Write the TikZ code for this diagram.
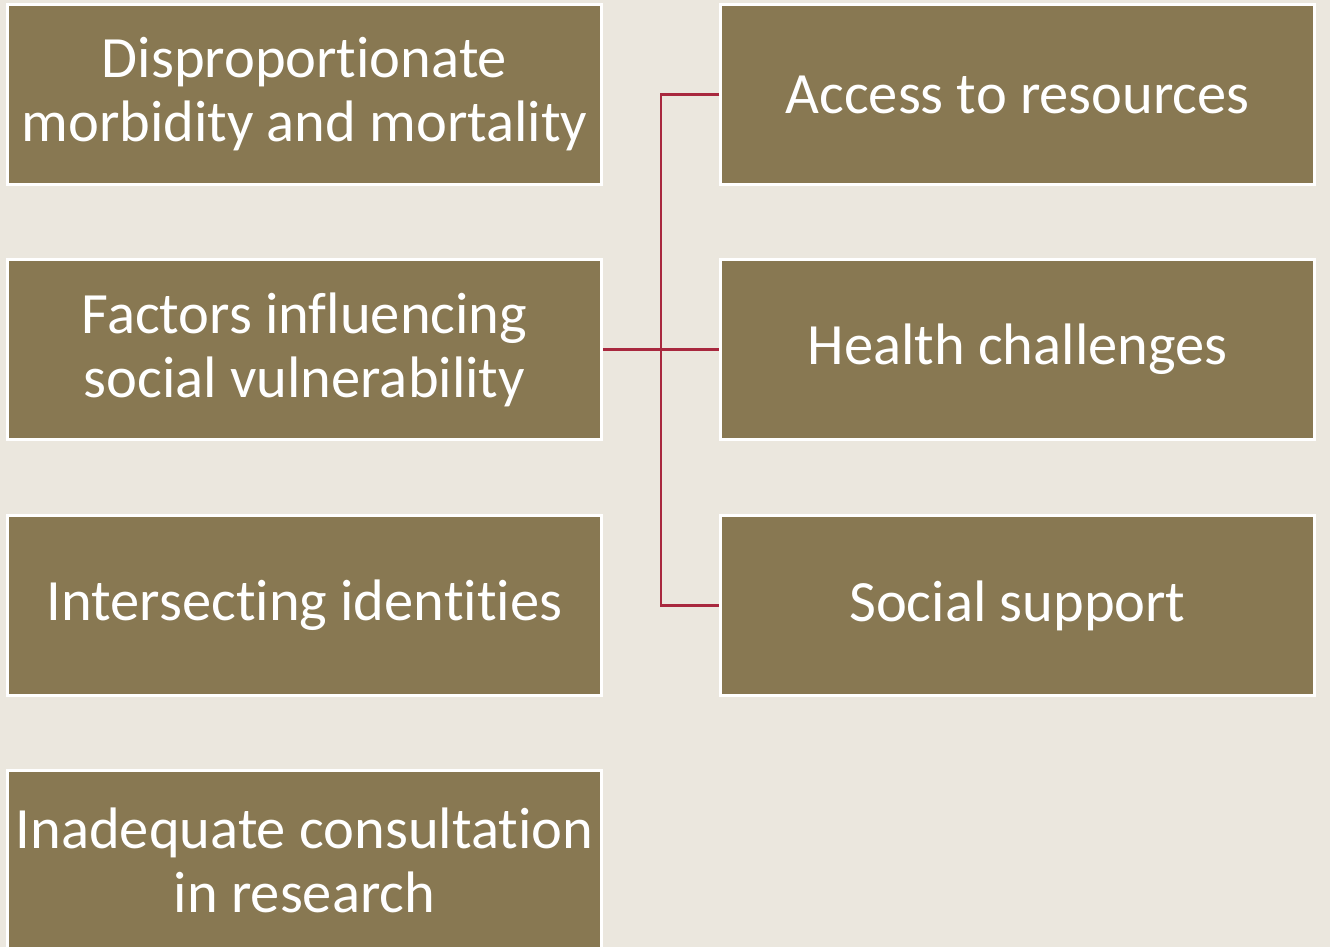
\documentclass[tikz,border=0pt]{standalone}
\usepackage{fontspec}
\setmainfont{Carlito}[Ligatures=NoCommon]
\definecolor{bg}{HTML}{EBE7DE}
\definecolor{boxfill}{HTML}{887852}
\definecolor{linkred}{HTML}{A8283E}
\begin{document}
\begin{tikzpicture}[x=1pt,y=-1pt,
  boxnode/.style={draw=white,line width=2.5pt,fill=boxfill,text=white,
    minimum width=594pt,minimum height=180pt,align=center,inner sep=0pt,
    font=\fontsize{58.5}{64}\selectfont},
  link/.style={draw=linkred,line width=2.5pt}]
\path[fill=bg] (0,0) rectangle (1330,947);
\useasboundingbox (0,0) rectangle (1330,947);
\begin{scope}
\clip (0,0) rectangle (1330,947);
\node[boxnode] (a) at (304.5,94.5) {Disproportionate\\morbidity and mortality};
\node[boxnode] (b) at (304.5,349.5) {Factors influencing\\social vulnerability};
\node[boxnode] (c) at (304.5,605.5) {Intersecting identities};
\node[boxnode] (d) at (304.5,860.5) {Inadequate consultation\\in research};
\node[boxnode] (e) at (1017.5,94.5) {Access to resources};
\node[boxnode] (f) at (1017.5,349.5) {Health challenges};
\node[boxnode] (g) at (1017.5,605.5) {Social support};
\end{scope}
\coordinate (j) at (661,349.5);
\draw[link] (b.east) -- (f.west);
\draw[link] (e.west) -| (j) |- (g.west);
\end{tikzpicture}
\end{document}
